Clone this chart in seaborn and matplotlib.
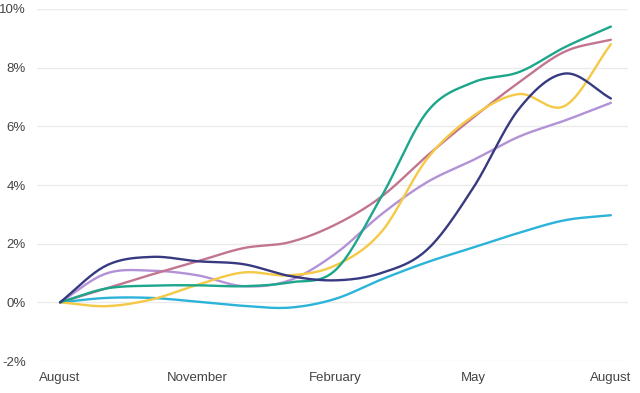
import numpy as np
import pandas as pd
import matplotlib
matplotlib.use("Agg")
import matplotlib.pyplot as plt
import seaborn as sns

# Monthly cumulative change (%)
months = ["August", "September", "October", "November", "December", "January",
          "February", "March", "April", "May", "June", "July", "August"]
tick_months = ["August", "November", "February", "May", "August"]

light_blue = [0, 0.15, 0.15, 0.02, -0.12, -0.18, 0.12, 0.78, 1.37, 1.87, 2.37, 2.8, 2.97]
navy = [0, 1.25, 1.55, 1.4, 1.3, 0.9, 0.75, 1.0, 1.8, 3.9, 6.6, 7.8, 6.95]
lavender = [0, 0.98, 1.08, 0.92, 0.55, 0.75, 1.66, 3.0, 4.1, 4.85, 5.65, 6.2, 6.8]
yellow = [0, -0.13, 0.1, 0.6, 1.02, 0.92, 1.26, 2.4, 4.9, 6.35, 7.1, 6.7, 8.8]
pink = [0, 0.47, 0.95, 1.4, 1.85, 2.05, 2.65, 3.6, 5.0, 6.3, 7.5, 8.55, 8.95]
green = [0, 0.47, 0.57, 0.58, 0.55, 0.68, 1.1, 3.6, 6.5, 7.5, 7.85, 8.7, 9.4]

series = {
    "light_blue": (light_blue, "#2cb3d9"),
    "lavender": (lavender, "#b391d6"),
    "pink": (pink, "#c27591"),
    "yellow": (yellow, "#f5c945"),
    "green": (green, "#1ca68b"),
    "navy": (navy, "#373a80"),
}


def smooth(vals, n=20):
    # cubic Hermite (Catmull-Rom) curve through the monthly points
    y = np.asarray(vals, dtype=float)
    x = np.arange(len(y), dtype=float)
    m = np.gradient(y)
    xs, ys = [], []
    for i in range(len(y) - 1):
        t = np.linspace(0, 1, n, endpoint=False)
        h00 = 2 * t**3 - 3 * t**2 + 1
        h10 = t**3 - 2 * t**2 + t
        h01 = -2 * t**3 + 3 * t**2
        h11 = t**3 - t**2
        xs.append(x[i] + t)
        ys.append(h00 * y[i] + h10 * m[i] + h01 * y[i + 1] + h11 * m[i + 1])
    xs.append([x[-1]])
    ys.append([y[-1]])
    return np.concatenate(xs), np.concatenate(ys)


sns.set_style("white")
plt.rcParams["font.family"] = ["Liberation Sans", "DejaVu Sans"]
fig = plt.figure(figsize=(6.4, 3.93), dpi=100)
ax = fig.add_axes([0.058, 0.0814, 0.923, 0.8957])

for name, (vals, col) in series.items():
    sx, sy = smooth(vals)
    sns.lineplot(x=sx, y=sy, color=col, linewidth=1.7, ax=ax, sort=False)

ax.set_ylim(-2, 10)
ax.set_xlim(-0.5, 12.37)
ax.set_yticks(range(-2, 11, 2))
ax.set_yticklabels([f"{v}%" for v in range(-2, 11, 2)])
ax.set_xticks([0, 3, 6, 9, 12])
ax.set_xticklabels(tick_months)
ax.grid(axis="y", color="#ebebeb", linewidth=1)
ax.grid(axis="x", visible=False)
for s in ax.spines.values():
    s.set_visible(False)
ax.tick_params(axis="y", length=0, pad=8, labelsize=9.5, labelcolor="#444444")
ax.tick_params(axis="x", length=0, pad=8, labelsize=9.5, labelcolor="#444444")

fig.savefig("out.png", dpi=100)
